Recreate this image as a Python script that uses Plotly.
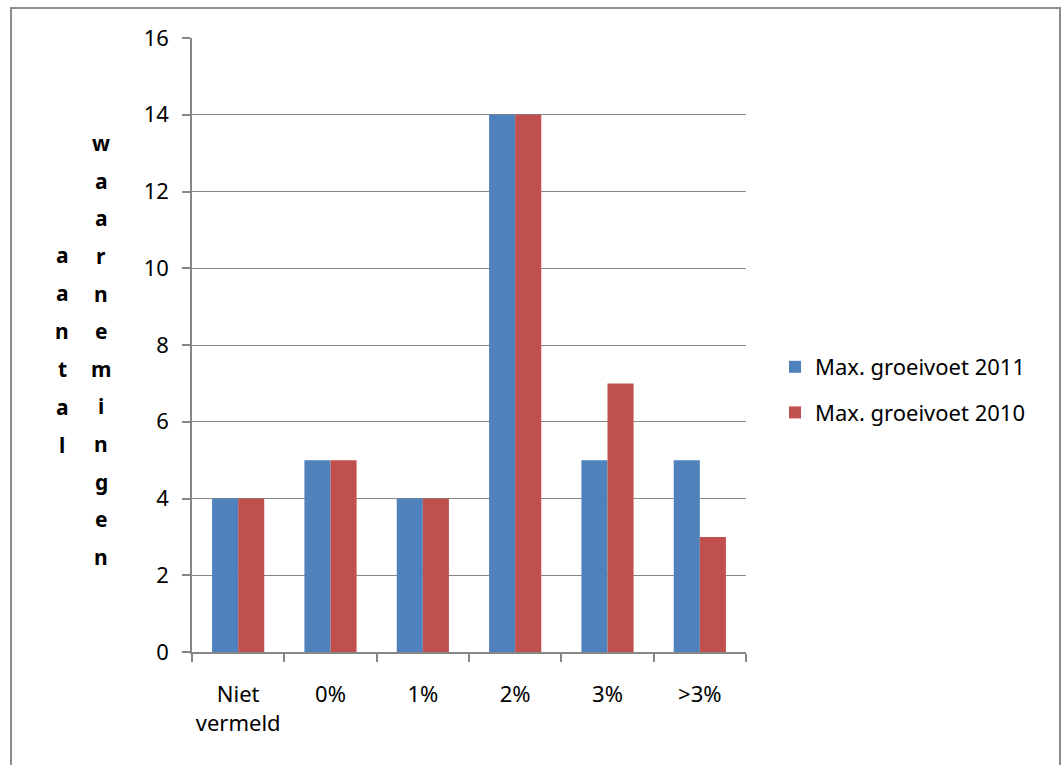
import plotly.graph_objects as go

categories = ["Niet<br>vermeld", "0%", "1%", "2%", "3%", ">3%"]
series_2011 = [4, 5, 4, 14, 5, 5]
series_2010 = [4, 5, 4, 14, 7, 3]
name_2011 = "Max. groeivoet 2011"
name_2010 = "Max. groeivoet 2010"
y_ticks = [0, 2, 4, 6, 8, 10, 12, 14, 16]
title_col1 = "aantal"
title_col2 = "waarnemingen"

W, H = 1063, 765
L, R, T, B = 192, 746, 38, 652
FONT = "Noto Sans"
GRAY = "#868686"
FS = 22

fig = go.Figure()
fig.add_trace(go.Bar(x=categories, y=series_2011, name=name_2011,
                     marker=dict(color="#4F81BD", line=dict(width=0)),
                     legendgroup="a"))
fig.add_trace(go.Bar(x=categories, y=series_2010, name=name_2010,
                     marker=dict(color="#C0504D", line=dict(width=0)),
                     legendgroup="b"))

def px_x(x):
    return (x - L) / (R - L)

def px_y(y):
    return (B - y) / (B - T)

annotations = []
for col, x0, step in [(title_col1, 62, 38.0), (title_col2, 101, 37.6)]:
    n = len(col)
    for i, ch in enumerate(col):
        yc = 350 + (i - (n - 1) / 2) * step
        annotations.append(dict(text="<b>%s</b>" % ch, x=px_x(x0), y=px_y(yc),
                                xref="paper", yref="paper", showarrow=False,
                                xanchor="center", yanchor="middle",
                                font=dict(family=FONT, size=21, color="black")))

fig.update_layout(
    width=W, height=H,
    margin=dict(l=L, r=W - R, t=T, b=H - B, pad=0, autoexpand=False),
    paper_bgcolor="white", plot_bgcolor="white",
    barmode="group", bargap=0.435, bargroupgap=0,
    font=dict(family=FONT, size=FS, color="black"),
    showlegend=True,
    legend=dict(x=px_x(775), y=px_y(390), xanchor="left", yanchor="middle",
                traceorder="grouped", tracegroupgap=14,
                font=dict(family=FONT, size=FS, color="black"),
                bgcolor="rgba(0,0,0,0)"),
    xaxis=dict(showline=True, linecolor=GRAY, linewidth=1.5,
               ticks="outside", tickson="boundaries", ticklen=8,
               tickcolor=GRAY, tickwidth=1.5, showgrid=False,
               tickangle=0, automargin=False,
               tickfont=dict(family=FONT, size=FS, color="black"),
               ticklabelstandoff=22),
    yaxis=dict(range=[0, 16], tickvals=y_ticks, showline=True, linecolor=GRAY,
               linewidth=1.5, ticks="outside", ticklen=8, tickcolor=GRAY,
               tickwidth=1.5, showgrid=True, gridcolor=GRAY, gridwidth=1.2,
               zeroline=False, automargin=False,
               tickfont=dict(family=FONT, size=FS, color="black"),
               ticklabelstandoff=9),
    annotations=annotations,
    shapes=[dict(type="rect", xref="paper", yref="paper",
                 x0=px_x(11), x1=px_x(1060), y0=px_y(780), y1=px_y(8),
                 line=dict(color="#8c8c8c", width=2), fillcolor="rgba(0,0,0,0)",
                 layer="below")],
)

fig.write_html("out.html")
